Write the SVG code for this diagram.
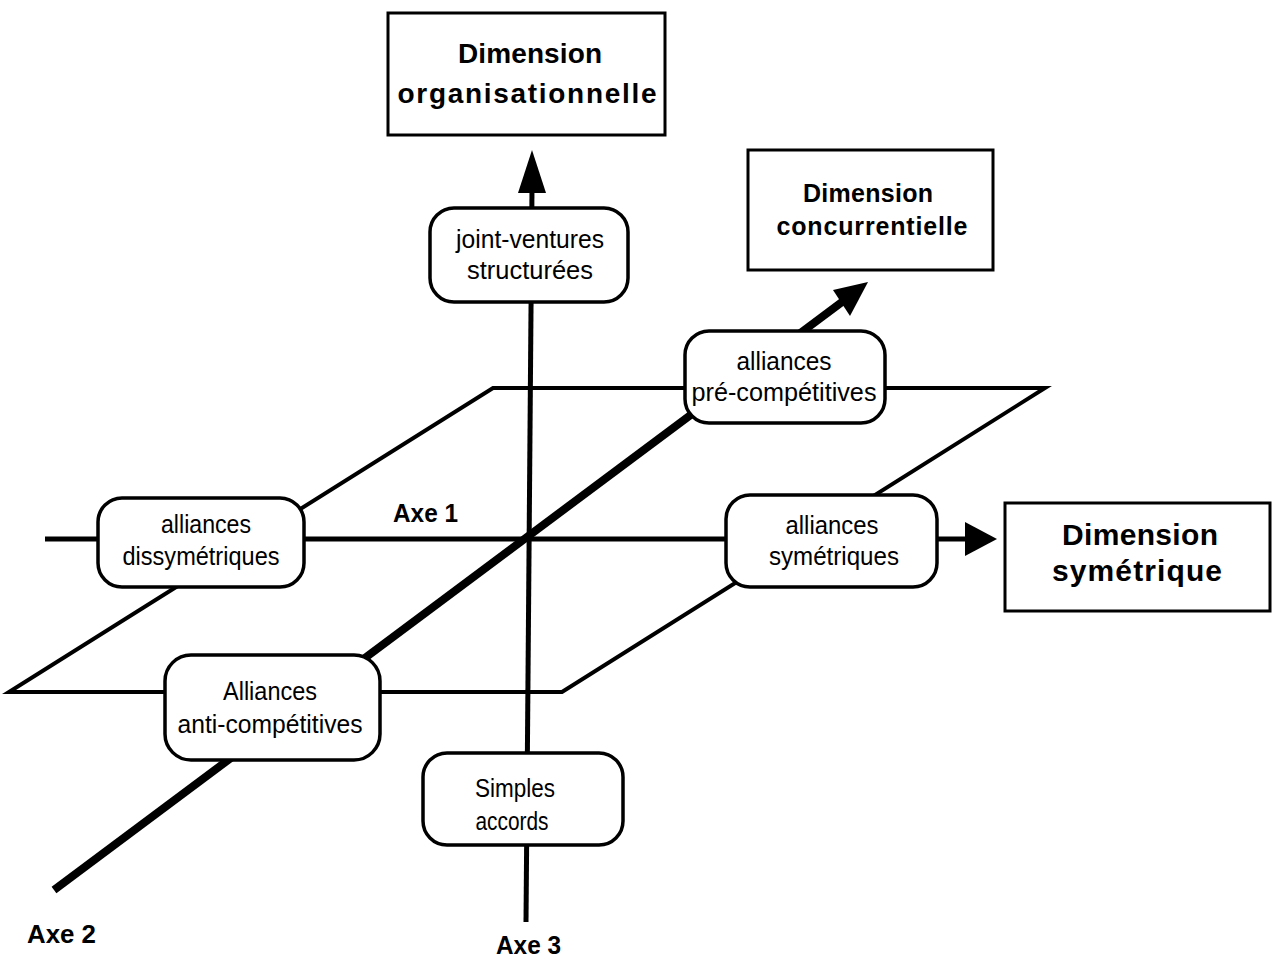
<svg xmlns="http://www.w3.org/2000/svg" width="1273" height="962" viewBox="0 0 1273 962">
<style>
.node rect{fill:#fff;stroke:#000;stroke-width:3.5}
.dim rect{fill:#fff;stroke:#000;stroke-width:3}
.nt{font-family:"Liberation Sans",Arial,sans-serif;font-size:26px;fill:#000;text-anchor:middle}
.dt{font-family:"Liberation Sans",Arial,sans-serif;font-weight:bold;fill:#000;text-anchor:middle}
.ax{font-family:"Liberation Sans",Arial,sans-serif;font-weight:bold;font-size:25px;fill:#000}
.ln{fill:none;stroke:#000}
</style>
<rect width="1273" height="962" fill="#fff"/>
<g id="connectors">
  <polygon class="ln" points="493,388 1045,388 562,692 9,692" stroke-width="4" stroke-linejoin="miter"/>
  <line class="ln" x1="45" y1="539" x2="968" y2="539" stroke-width="5"/>
  <polygon points="965,522 997,539 965,556" fill="#000"/>
  <line class="ln" x1="532" y1="188" x2="526" y2="922" stroke-width="5"/>
  <polygon points="532,150 518,193 546,193" fill="#000"/>
  <line class="ln" x1="54" y1="890" x2="846" y2="299" stroke-width="8"/>
  <polygon points="868,282 833,290 850,316" fill="#000"/>
</g>
<g id="node-joint" class="node">
  <rect x="430" y="208" width="198" height="94" rx="24"/>
  <text class="nt" x="530" y="248" textLength="148" lengthAdjust="spacingAndGlyphs">joint-ventures</text>
  <text class="nt" x="530" y="279" textLength="126" lengthAdjust="spacingAndGlyphs">structurées</text>
</g>
<g id="node-pre" class="node">
  <rect x="685" y="331" width="200" height="92" rx="24"/>
  <text class="nt" x="784" y="370" textLength="95" lengthAdjust="spacingAndGlyphs">alliances</text>
  <text class="nt" x="784" y="401" textLength="185" lengthAdjust="spacingAndGlyphs">pré-compétitives</text>
</g>
<g id="node-dissy" class="node">
  <rect x="98" y="498" width="206" height="89" rx="24"/>
  <text class="nt" x="206" y="533" textLength="90" lengthAdjust="spacingAndGlyphs">alliances</text>
  <text class="nt" x="201" y="565" textLength="157" lengthAdjust="spacingAndGlyphs">dissymétriques</text>
</g>
<g id="node-sym" class="node">
  <rect x="726" y="495" width="211" height="92" rx="24"/>
  <text class="nt" x="832" y="534" textLength="93" lengthAdjust="spacingAndGlyphs">alliances</text>
  <text class="nt" x="834" y="565" textLength="130" lengthAdjust="spacingAndGlyphs">symétriques</text>
</g>
<g id="node-anti" class="node">
  <rect x="165" y="655" width="215" height="105" rx="26"/>
  <text class="nt" x="270" y="700" textLength="94" lengthAdjust="spacingAndGlyphs">Alliances</text>
  <text class="nt" x="270" y="733" textLength="185" lengthAdjust="spacingAndGlyphs">anti-compétitives</text>
</g>
<g id="node-simples" class="node">
  <rect x="423" y="753" width="200" height="92" rx="24"/>
  <text class="nt" x="515" y="797" textLength="80" lengthAdjust="spacingAndGlyphs">Simples</text>
  <text class="nt" x="512" y="830" textLength="73" lengthAdjust="spacingAndGlyphs">accords</text>
</g>
<g id="dim-org" class="dim">
  <rect x="388" y="13" width="277" height="122"/>
  <text class="dt" x="530" y="63" font-size="28" textLength="144" lengthAdjust="spacing">Dimension</text>
  <text class="dt" x="527" y="103" font-size="28" textLength="259" lengthAdjust="spacing">organisationnelle</text>
</g>
<g id="dim-conc" class="dim">
  <rect x="748" y="150" width="245" height="120"/>
  <text class="dt" x="868" y="202" font-size="25" textLength="130" lengthAdjust="spacing">Dimension</text>
  <text class="dt" x="872" y="235" font-size="25" textLength="191" lengthAdjust="spacing">concurrentielle</text>
</g>
<g id="dim-sym" class="dim">
  <rect x="1005" y="503" width="265" height="108"/>
  <text class="dt" x="1140" y="545" font-size="30" textLength="156" lengthAdjust="spacing">Dimension</text>
  <text class="dt" x="1137" y="581" font-size="30" textLength="170" lengthAdjust="spacing">symétrique</text>
</g>
<g id="labels">
  <text class="ax" x="393" y="522" textLength="65" lengthAdjust="spacingAndGlyphs">Axe 1</text>
  <text class="ax" x="27" y="943" textLength="69" lengthAdjust="spacingAndGlyphs">Axe 2</text>
  <text class="ax" x="496" y="954" textLength="65" lengthAdjust="spacingAndGlyphs">Axe 3</text>
</g>
</svg>
